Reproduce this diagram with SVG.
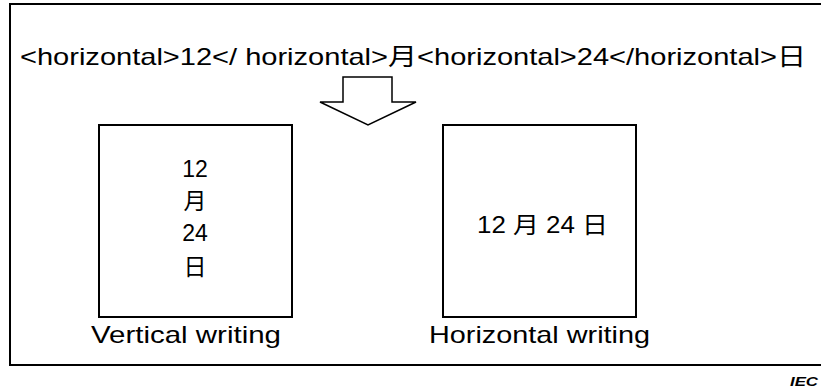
<svg xmlns="http://www.w3.org/2000/svg" width="821" height="389" viewBox="0 0 821 389">
<style>
.t{font-family:"Liberation Sans","Noto Sans CJK JP",sans-serif;fill:#000}
.box{fill:none;stroke:#000;stroke-width:2}
</style>
<rect width="821" height="389" fill="#fff"/>
<g id="frame"><rect class="box" x="10" y="4" width="820" height="361"/></g>
<g id="source"><text class="t" x="20" y="65" font-size="24" textLength="786" lengthAdjust="spacingAndGlyphs">&lt;horizontal&gt;12&lt;/ horizontal&gt;月&lt;horizontal&gt;24&lt;/horizontal&gt;日</text></g>
<g id="connectors"><polygon points="343,77 392,77 392,102 416,102 368,125 320,102 343,102" fill="#fff" stroke="#000" stroke-width="1.5"/></g>
<g id="vertical">
<rect class="box" x="99" y="125" width="193" height="192"/>
<text class="t" font-size="23" text-anchor="middle"><tspan x="195" y="177">12</tspan><tspan x="195" y="209">月</tspan><tspan x="195" y="241">24</tspan><tspan x="195" y="275">日</tspan></text>
<text class="t" x="91" y="343" font-size="24" textLength="190" lengthAdjust="spacingAndGlyphs">Vertical writing</text>
</g>
<g id="horizontal">
<rect class="box" x="443" y="125" width="193" height="192"/>
<text class="t" x="477" y="233" font-size="23" textLength="131" lengthAdjust="spacingAndGlyphs">12 月 24 日</text>
<text class="t" x="429" y="343" font-size="24" textLength="221" lengthAdjust="spacingAndGlyphs">Horizontal writing</text>
</g>
<text class="t" x="790" y="386" font-size="12" font-style="italic" font-weight="bold" textLength="28" lengthAdjust="spacingAndGlyphs">IEC</text>
</svg>
